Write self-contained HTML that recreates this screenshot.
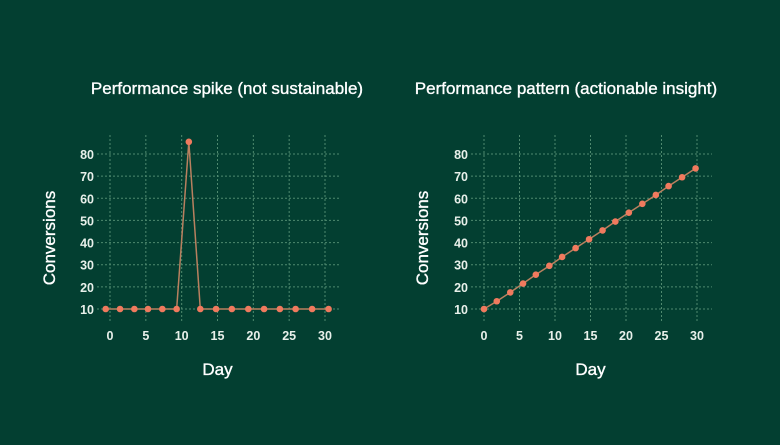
<!DOCTYPE html>
<html><head><meta charset="utf-8"><style>
html,body{margin:0;padding:0;background:#033f31;}
svg{display:block;font-family:"Liberation Sans",sans-serif;}
</style></head><body>
<svg id="c" width="780" height="445" viewBox="0 0 780 445" xmlns="http://www.w3.org/2000/svg">
<rect width="780" height="445" fill="#033f31"/>
</svg>
<script>
const xTicks=[0,5,10,15,20,25,30];
const yTicks=[10,20,30,40,50,60,70,80];
const spikeDays=[-0.6,1.4,3.4,5.3,7.3,9.3,11.0,12.6,14.8,17.0,19.3,21.5,23.7,25.9,28.2,30.5];
const spikeValues=[10,10,10,10,10,10,85.5,10,10,10,10,10,10,10,10,10];
const patternDays=[0,1.8,3.7,5.5,7.3,9.2,11,12.9,14.8,16.7,18.5,20.4,22.3,24.2,26,27.9,29.8];
const patternValues=[10,13.5,17.5,21.5,25.5,29.5,33.5,37.5,41.5,45.5,49.5,53.5,57.5,61.5,65.5,69.5,73.5];

const svg=document.getElementById('c');
const NS='http://www.w3.org/2000/svg';
function mk(tag,attrs,parent){const e=document.createElementNS(NS,tag);for(const k in attrs)e.setAttribute(k,attrs[k]);(parent||svg).appendChild(e);return e;}

function drawChart(cfg,days,vals,prefix){
  const g=mk('g',{});
  
  
  const x=v=>cfg.x0+(v-0)*(cfg.x30-cfg.x0)/30;
  const y=v=>309-(v-10)*(309-154)/70;
  yTicks.forEach(t=>{
    const l=mk('line',{x1:cfg.gl,x2:cfg.gr,y1:y(t),y2:y(t),stroke:'#4f8a6f','stroke-width':1,'stroke-dasharray':'2,2'},g);
    
    
    const tx=mk('text',{x:cfg.gl-3,y:y(t)+5,'text-anchor':'end',fill:'#e8f0ea','font-size':12.5,'font-weight':'bold'},g);
    tx.textContent=t;
    
    
  });
  xTicks.forEach(t=>{
    const l=mk('line',{x1:x(t),x2:x(t),y1:135,y2:323,stroke:'#4f8a6f','stroke-width':1,'stroke-dasharray':'2,2'},g);
    
    
    const tx=mk('text',{x:x(t),y:340,'text-anchor':'middle',fill:'#e8f0ea','font-size':12.5,'font-weight':'bold'},g);
    tx.textContent=t;
    
    
  });
  const pts=days.map((d,i)=>x(d)+','+y(vals[i])).join(' ');
  const pl=mk('polyline',{points:pts,fill:'none',stroke:'#b9805f','stroke-width':1.5},g);
  
  
  days.forEach((d,i)=>{
    const c=mk('circle',{cx:x(d),cy:y(vals[i]),r:3.3,fill:'#f07a5e'},g);
    
    
  });
  const t=mk('text',{x:cfg.tx,y:94,'text-anchor':'middle',fill:'#ffffff','font-size':17,stroke:'#ffffff','stroke-width':0.35},g);
  t.textContent=cfg.title;
  
  
  const xt=mk('text',{x:(cfg.x0+cfg.x30)/2,y:375,'text-anchor':'middle',fill:'#ffffff','font-size':17,stroke:'#ffffff','stroke-width':0.35},g);
  xt.textContent='Day';
  
  
  const yt=mk('text',{x:0,y:0,'text-anchor':'middle',fill:'#ffffff','font-size':17,stroke:'#ffffff','stroke-width':0.35,transform:'translate('+cfg.yx+',238) rotate(-90)'},g);
  yt.textContent='Conversions';
  
  
}
drawChart({x0:110,x30:325,gl:97,gr:339,tx:227,yx:55,title:'Performance spike (not sustainable)'},spikeDays,spikeValues,'spike');
drawChart({x0:484,x30:697,gl:471,gr:712,tx:566,yx:428,title:'Performance pattern (actionable insight)'},patternDays,patternValues,'pattern');
</script>
</body></html>
